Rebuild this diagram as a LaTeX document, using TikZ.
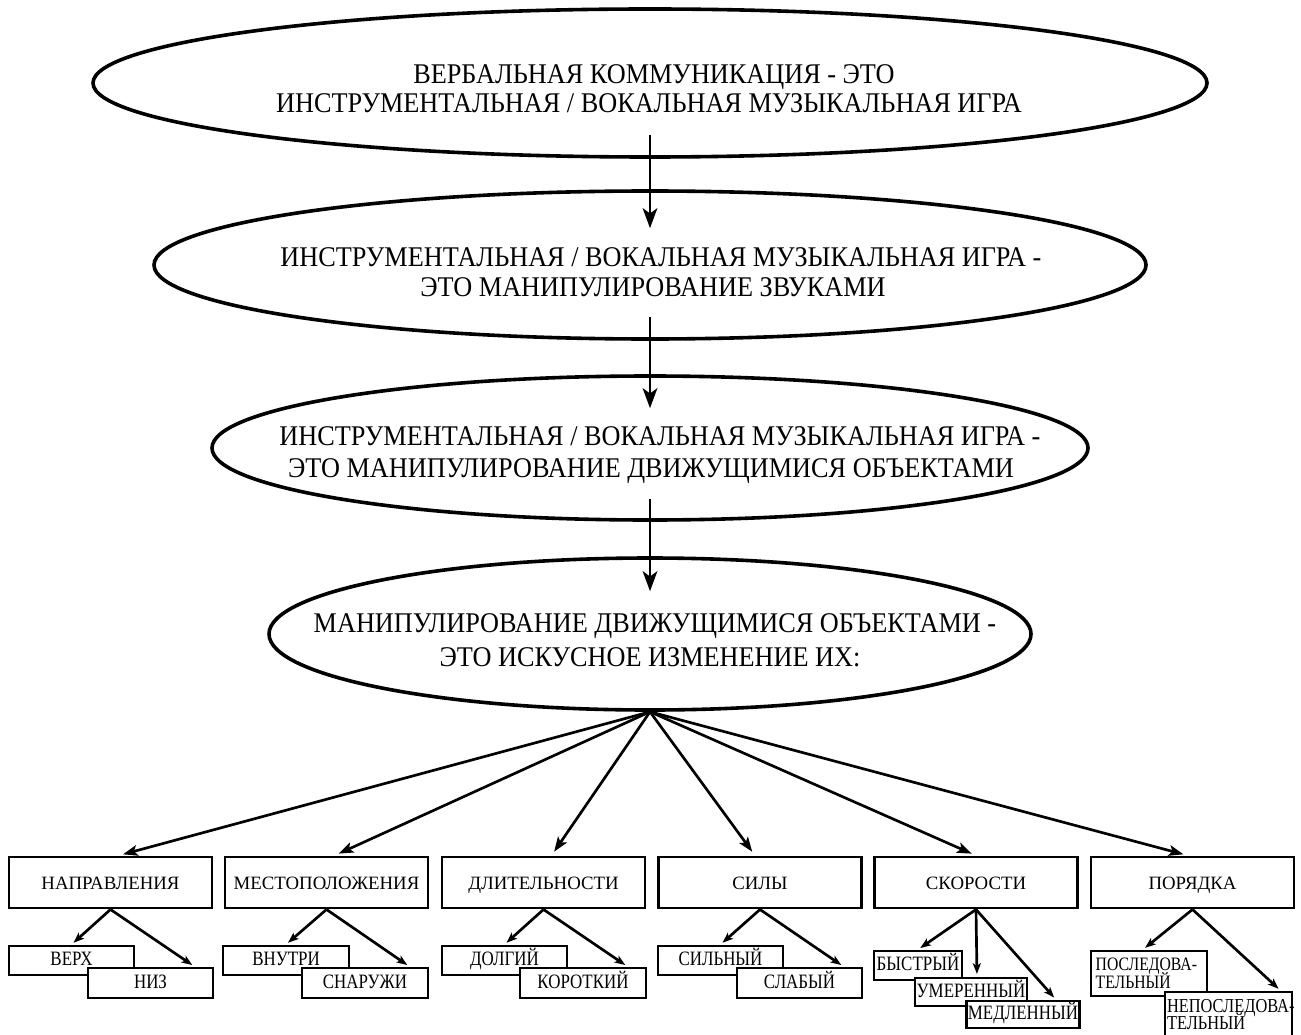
\documentclass[tikz,border=0pt]{standalone}
\usepackage{fontspec}
\setmainfont{Liberation Serif}
\newfontfamily\ftA[FakeStretch=0.92]{Liberation Serif}
\newfontfamily\ftB[FakeStretch=0.83]{Liberation Serif}
\usetikzlibrary{arrows.meta,shapes.geometric}
\begin{document}
\begin{tikzpicture}[x=0.75pt,y=-0.75pt,
  ell/.style={draw, ellipse, line width=2.7pt, inner sep=0pt},
  etxt/.style={anchor=base, inner sep=0pt, font=\ftA\fontsize{21.4pt}{24pt}\selectfont},
  mbox/.style={draw, rectangle, line width=2.2pt, minimum width=152.25pt, minimum height=38.25pt, inner sep=0pt, text height=1em, text depth=0pt, font=\fontsize{14.1pt}{16pt}\selectfont},
  sbox/.style={draw, rectangle, fill=white, line width=2.2pt, inner xsep=1pt, inner ysep=0pt, text height=0.75em, text depth=0pt, font=\ftB\fontsize{15.3pt}{16pt}\selectfont},
  pbox/.style={draw, rectangle, fill=white, line width=2.2pt, inner ysep=0pt, align=left},
  varr/.style={line width=2pt, -{Stealth[length=15pt,width=11pt,inset=4pt]}},
  farr/.style={line width=2pt, -{Stealth[length=11pt,width=8pt,inset=2.5pt]}, shorten >=3.5pt},
  sarr/.style={line width=2pt, -{Stealth[length=8pt,width=6pt,inset=2pt]}, shorten >=2pt},
]
\useasboundingbox[fill=white] (0,0) rectangle (1301,1034);

% ellipses
\node[ell, minimum width=835.5pt, minimum height=111pt] (e1) at (650,83) {};
\node[ell, minimum width=744pt, minimum height=111pt] (e2) at (650,265) {};
\node[ell, minimum width=657pt, minimum height=108pt] (e3) at (650,448) {};
\node[ell, minimum width=571.5pt, minimum height=114pt] (e4) at (650,634) {};

% ellipse texts
\node[etxt] (t1a) at (654,84) {ВЕРБАЛЬНАЯ КОММУНИКАЦИЯ - ЭТО};
\node[etxt] (t1b) at (649,113) {ИНСТРУМЕНТАЛЬНАЯ / ВОКАЛЬНАЯ МУЗЫКАЛЬНАЯ ИГРА};
\node[etxt] (t2a) at (661,266) {ИНСТРУМЕНТАЛЬНАЯ / ВОКАЛЬНАЯ МУЗЫКАЛЬНАЯ ИГРА -};
\node[etxt] (t2b) at (653,296) {ЭТО МАНИПУЛИРОВАНИЕ ЗВУКАМИ};
\node[etxt] (t3a) at (660,445) {ИНСТРУМЕНТАЛЬНАЯ / ВОКАЛЬНАЯ МУЗЫКАЛЬНАЯ ИГРА -};
\node[etxt] (t3b) at (651,477) {ЭТО МАНИПУЛИРОВАНИЕ ДВИЖУЩИМИСЯ ОБЪЕКТАМИ};
\node[etxt] (t4a) at (655,632) {МАНИПУЛИРОВАНИЕ ДВИЖУЩИМИСЯ ОБЪЕКТАМИ -};
\node[etxt] (t4b) at (650,666) {ЭТО ИСКУСНОЕ ИЗМЕНЕНИЕ ИХ:};

% main row boxes
\node[mbox] (nap) at (110.5,882.5) {НАПРАВЛЕНИЯ};
\node[mbox] (mes) at (326.5,882.5) {МЕСТОПОЛОЖЕНИЯ};
\node[mbox] (dli) at (543.5,882.5) {ДЛИТЕЛЬНОСТИ};
\node[mbox] (sil) at (760,882.5) {СИЛЫ};
\node[mbox] (sko) at (976,882.5) {СКОРОСТИ};
\node[mbox] (por) at (1192.5,882.5) {ПОРЯДКА};

% sub boxes
\node[sbox, minimum width=93.75pt, minimum height=21.75pt] (verh) at (71.5,960.5) {ВЕРХ};
\node[sbox, minimum width=93.75pt, minimum height=22.5pt] (niz) at (150.5,983) {НИЗ};
\node[sbox, minimum width=94.5pt, minimum height=21.75pt] (vnu) at (286,960.5) {ВНУТРИ};
\node[sbox, minimum width=94.5pt, minimum height=22.5pt] (sna) at (365,983) {СНАРУЖИ};
\node[sbox, minimum width=93.75pt, minimum height=21.75pt] (dol) at (504.5,960.5) {ДОЛГИЙ};
\node[sbox, minimum width=94.5pt, minimum height=22.5pt] (kor) at (583,983) {КОРОТКИЙ};
\node[sbox, minimum width=93.75pt, minimum height=21.75pt] (sln) at (720.5,960.5) {СИЛЬНЫЙ};
\node[sbox, minimum width=93.75pt, minimum height=22.5pt] (sla) at (799.5,983) {СЛАБЫЙ};
\node[sbox, minimum width=66pt, minimum height=21.75pt] (bys) at (918,965.5) {БЫСТРЫЙ};
\node[sbox, minimum width=84pt, minimum height=21pt] (ume) at (971,992) {УМЕРЕННЫЙ};
\node[sbox, minimum width=84pt, minimum height=20.25pt] (med) at (1023,1014.5) {МЕДЛЕННЫЙ};
\node[pbox, inner xsep=3.5pt, text width=80pt, minimum height=33.75pt,
      font={\ftB\fontsize{14.2pt}{13.5pt}\selectfont\lineskiplimit=-20pt\lineskip=0pt}]
      (pos) at (1149,973.5) {\mbox{ПОСЛЕДОВА-}\\\mbox{ТЕЛЬНЫЙ}};
\node[pbox, inner xsep=1.5pt, text width=92.25pt, minimum height=33.75pt,
      font={\ftB\fontsize{14.8pt}{13pt}\selectfont\lineskiplimit=-20pt\lineskip=0pt}]
      (nep) at (1228.5,1014.5) {\mbox{НЕПОСЛЕДОВА-}\\\mbox{ТЕЛЬНЫЙ}};

% vertical arrows
\draw[varr] ([yshift=18pt]e1.south) -- ([yshift=-29.25pt]e2.north);
\draw[varr] ([yshift=18pt]e2.south) -- ([yshift=-25.5pt]e3.north);
\draw[varr] ([yshift=17.25pt]e3.south) -- ([yshift=-26.25pt]e4.north);

% fan arrows
\draw[farr] (e4.south) -- ([xshift=6pt]nap.north);
\draw[farr] (e4.south) -- ([xshift=6pt]mes.north);
\draw[farr] (e4.south) -- ([xshift=6pt]dli.north);
\draw[farr] (e4.south) -- ([xshift=-3.75pt]sil.north);
\draw[farr] (e4.south) -- (sko.north);
\draw[farr] (e4.south) -- ([xshift=-3.4pt]por.north);

% sub arrows
\draw[sarr] (nap.south) -- (verh.north);
\draw[sarr] (nap.south) -- ([xshift=-15pt]niz.north east);
\draw[sarr] (mes.south) -- (vnu.north);
\draw[sarr] (mes.south) -- ([xshift=-15pt]sna.north east);
\draw[sarr] (dli.south) -- (dol.north);
\draw[sarr] (dli.south) -- ([xshift=-15pt]kor.north east);
\draw[sarr] (sil.south) -- (sln.north);
\draw[sarr] (sil.south) -- ([xshift=-15pt]sla.north east);
\draw[sarr] (sko.south) -- (bys.north);
\draw[sarr] (sko.south) -- ([xshift=4.5pt]ume.north);
\draw[sarr] (sko.south) -- ([xshift=-18.75pt]med.north east);
\draw[sarr] (por.south) -- ([xshift=-4.5pt]pos.north);
\draw[sarr] (por.south) -- ([xshift=-9.75pt]nep.north east);
\end{tikzpicture}
\end{document}
